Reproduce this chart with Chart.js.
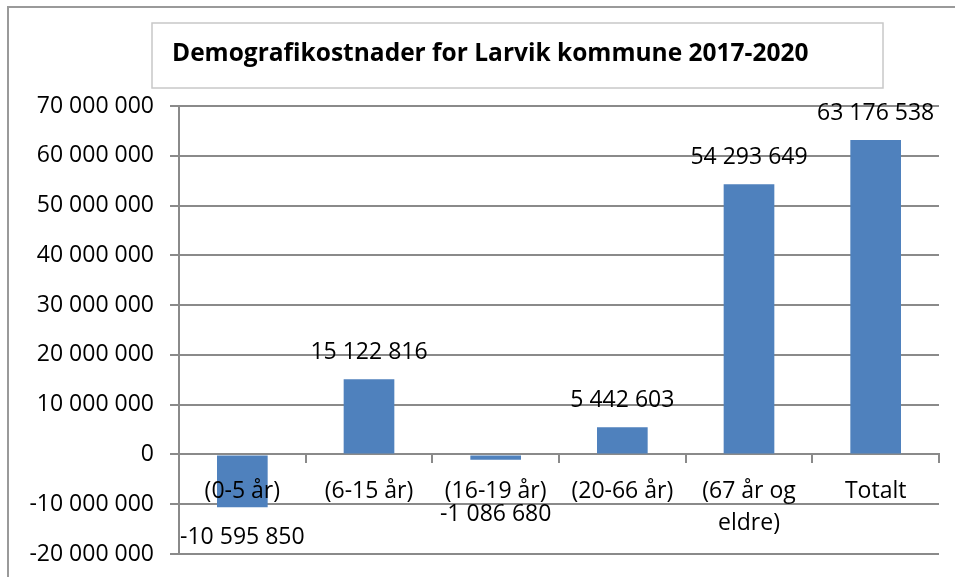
<!DOCTYPE html>
<html>
<head>
<meta charset="utf-8">
<script src="https://cdn.jsdelivr.net/npm/chart.js@4"></script>
<style>
  html, body { margin: 0; padding: 0; background: #fff; }
  #wrap { position: relative; width: 955px; height: 577px; }
</style>
</head>
<body>
<div id="wrap"><canvas id="c" width="955" height="577"></canvas></div>
<script>
const TITLE = 'Demografikostnader for Larvik kommune 2017-2020';
const categories = ['(0-5 år)', '(6-15 år)', '(16-19 år)', '(20-66 år)', ['(67 år og', 'eldre)'], 'Totalt'];
const values = [-10595850, 15122816, -1086680, 5442603, 54293649, 63176538];
const yMin = -20000000;
const yMax = 70000000;
const yStep = 10000000;

const FONT = '"Open Sans", sans-serif';
const GRID = '#8a8a8a';
const BAR = '#4F81BD';

function fmt(v) {
  const s = Math.abs(Math.round(v)).toString().replace(/\B(?=(\d{3})+(?!\d))/g, ' ');
  return (v < 0 ? '-' : '') + s;
}

const framePlugin = {
  id: 'frame',
  beforeDraw(chart) {
    const ctx = chart.ctx;
    ctx.save();
    ctx.fillStyle = '#fff';
    ctx.fillRect(0, 0, chart.width, chart.height);
    ctx.strokeStyle = '#9a9a9a';
    ctx.lineWidth = 2;
    ctx.beginPath();
    ctx.moveTo(8, chart.height);
    ctx.lineTo(8, 7);
    ctx.lineTo(chart.width, 7);
    ctx.stroke();
    // title box
    ctx.strokeStyle = '#c8c8c8';
    ctx.lineWidth = 1.5;
    ctx.strokeRect(152, 23, 731, 65);
    ctx.fillStyle = '#000';
    ctx.font = 'bold 24.5px ' + FONT;
    ctx.textAlign = 'left';
    ctx.textBaseline = 'middle';
    ctx.fillText(TITLE, 172, 54);
    ctx.restore();
  }
};

const labelPlugin = {
  id: 'vlabels',
  afterDatasetsDraw(chart) {
    const ctx = chart.ctx;
    const meta = chart.getDatasetMeta(0);
    const zeroY = chart.scales.y.getPixelForValue(0);
    ctx.save();
    ctx.fillStyle = '#000';
    ctx.font = '23px ' + FONT;
    ctx.textAlign = 'center';
    ctx.textBaseline = 'middle';
    meta.data.forEach((bar, i) => {
      const v = values[i];
      let y;
      if (v >= 0) {
        y = bar.y - 27;
      } else {
        y = Math.max(bar.y + 30, zeroY + 60);
      }
      ctx.fillText(fmt(v), bar.x, y);
    });
    ctx.restore();
  }
};

new Chart(document.getElementById('c'), {
  type: 'bar',
  data: {
    labels: categories,
    datasets: [{
      data: values,
      backgroundColor: BAR,
      borderWidth: 0,
      categoryPercentage: 1.0,
      barPercentage: 0.4
    }]
  },
  options: {
    responsive: false,
    animation: false,
    devicePixelRatio: 1,
    layout: { padding: { left: 0, right: 16, top: 106, bottom: 23 } },
    plugins: {
      legend: { display: false },
      title: { display: false },
      tooltip: { enabled: false }
    },
    scales: {
      x: {
        position: { y: 0 },
        offset: true,
        grid: {
          display: true,
          drawOnChartArea: false,
          drawTicks: true,
          tickLength: 8,
          color: GRID,
          lineWidth: 2,
          offset: true
        },
        border: { display: true, color: GRID, width: 2 },
        ticks: {
          z: 1,
          color: '#000',
          font: { family: FONT, size: 23, lineHeight: 1.4 },
          padding: 13,
          maxRotation: 0,
          autoSkip: false
        }
      },
      y: {
        min: yMin,
        max: yMax,
        afterFit(scale) { scale.width = 179; },
        grid: {
          color: GRID,
          lineWidth: 2,
          drawTicks: true,
          tickLength: 9
        },
        border: { display: true, color: GRID, width: 2 },
        ticks: {
          stepSize: yStep,
          color: '#000',
          font: { family: FONT, size: 23, lineHeight: 0.5 },
          padding: 16,
          callback: (v) => fmt(v)
        }
      }
    }
  },
  plugins: [framePlugin, labelPlugin]
});
</script>
</body>
</html>
